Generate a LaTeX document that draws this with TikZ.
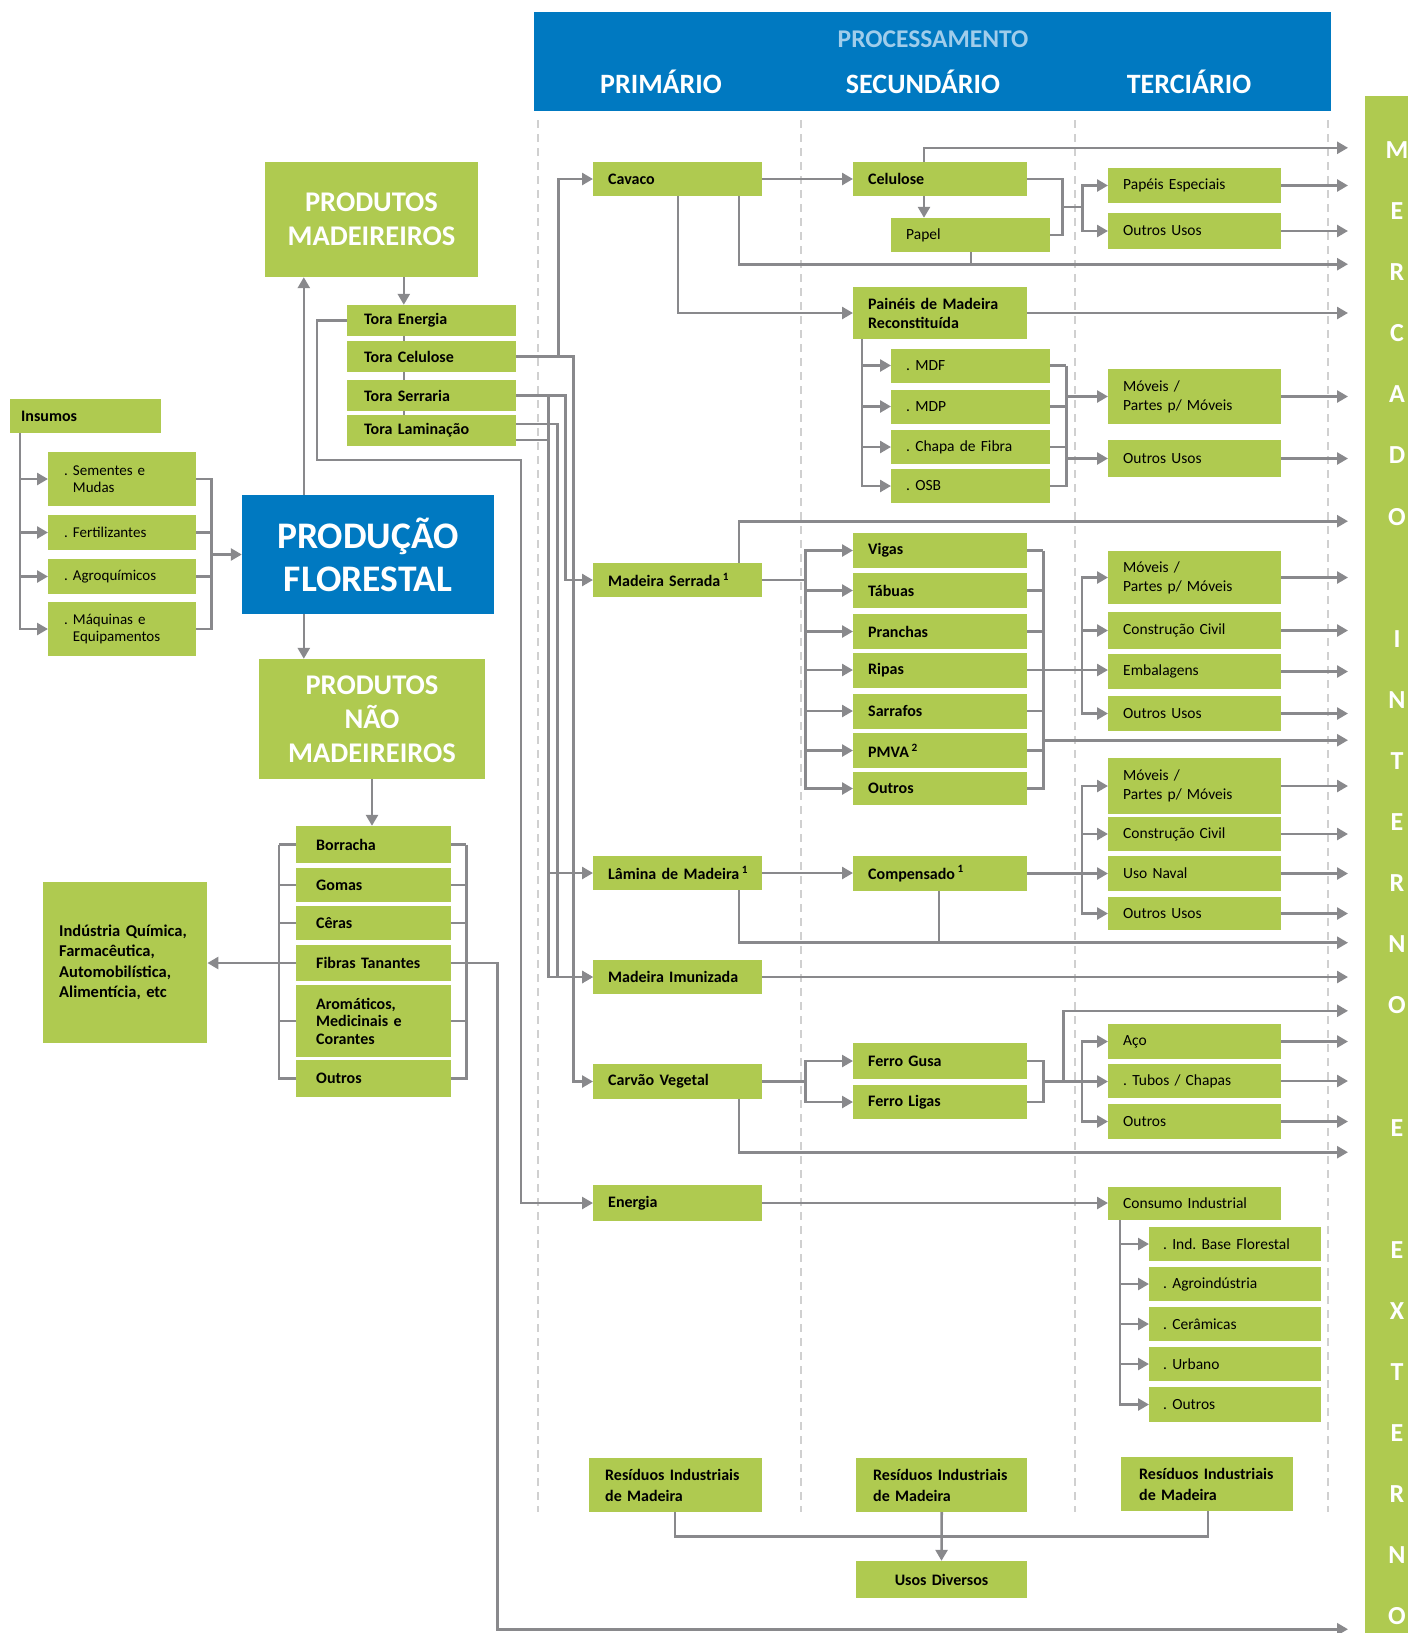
\documentclass[tikz,border=0pt]{standalone}
\usepackage{fontspec}
\setmainfont{Carlito}
\usetikzlibrary{arrows.meta,calc,backgrounds}
\definecolor{lgreen}{RGB}{175,202,80}
\definecolor{pblue}{RGB}{0,121,193}
\definecolor{lblue}{RGB}{160,205,235}
\definecolor{lgrey}{RGB}{137,137,140}
\definecolor{dgrey}{RGB}{208,208,208}
\newcommand{\bxfont}{\fontsize{16}{19}\selectfont\bfseries}
\newcommand{\ltfont}{\fontsize{15.5}{19}\selectfont}
\newcommand{\rsfont}{\fontsize{16}{21}\selectfont\bfseries}
\frenchspacing

\begin{document}
\begin{tikzpicture}[x=1pt,y=-1pt,
	line/.style={draw=lgrey,line width=2.6pt},
	arr/.style={line,-{Triangle[length=11pt,width=12pt]}},
	sep/.style={draw=dgrey,line width=1.5pt,dash pattern=on 8pt off 6pt},
	bb/.style={fill=lgreen,anchor=west,inner xsep=15pt,inner ysep=0pt,align=left,font=\bxfont},
	lb/.style={bb,font=\ltfont},
	big/.style={fill=lgreen,text=white,align=center,font=\fontsize{28.5}{34}\selectfont\bfseries},
	hd/.style={text=white,font=\fontsize{28}{32}\selectfont\bfseries},
	tora/.style={bb,inner xsep=17pt,text width=135pt,minimum height=31pt},
	inp/.style={lb,inner xsep=16pt,text width=116pt,font=\fontsize{15}{17.5}\selectfont},
	nm/.style={bb,inner xsep=20pt,text width=115pt},
	p1/.style={bb,text width=139pt,minimum height=34pt},
	p2/.style={bb,text width=144pt,minimum height=35pt},
	p2l/.style={lb,text width=129pt,minimum height=34pt},
	p3/.style={lb,text width=143pt,minimum height=35pt},
	p4/.style={lb,inner xsep=14pt,text width=144pt,minimum height=34pt},
	mlt/.style={text=white,font=\fontsize{26}{30}\selectfont\bfseries}]
\useasboundingbox (0,0) rectangle (1408,1633);

\foreach \x in {538,801,1075,1328}
	\draw[sep] (\x,120) -- (\x,1512);

\node[fill=pblue,anchor=north west,minimum width=797pt,minimum height=99pt,inner sep=0pt] (hdr) at (534,12) {};
\node[text=lblue,font=\fontsize{25.5}{30}\selectfont\bfseries] (proc) at (933,39) {PROCESSAMENTO};
\node[hd] (prim) at (661,82) {PRIMÁRIO};
\node[hd] (secd) at (923,82) {SECUNDÁRIO};
\node[hd] (terc) at (1189,82) {TERCIÁRIO};

\node[fill=lgreen,anchor=north west,minimum width=43pt,minimum height=1537pt,inner sep=0pt] (mk) at (1365,96) {};
\foreach \ch [count=\i from 0] in {M,E,R,C,A,D,O,{},I,N,T,E,R,N,O,{},E,{},E,X,T,E,R,N,O}
	\node[mlt] (ml\i) at (1397,150+61.1*\i) {\ch};
\coordinate (mkx) at (1348,0);

% entrada
\node[bb,inner xsep=11pt,text width=129pt,minimum height=34pt] (ins) at (10,416) {Insumos};
\node[inp,minimum height=54pt] (sem) at (48,479) {. Sementes e\\\phantom{. }Mudas};
\node[inp,minimum height=35pt] (fert) at (48,532.5) {. Fertilizantes};
\node[inp,minimum height=35pt] (agro) at (48,576.5) {. Agroquímicos};
\node[inp,minimum height=54pt] (maq) at (48,629) {. Máquinas e\\\phantom{. }Equipamentos};

\node[big,fill=pblue,font=\fontsize{37.5}{43}\selectfont\bfseries,minimum width=252pt,minimum height=119pt] (pf) at (368,554.5) {PRODUÇÃO\\FLORESTAL};
\node[big,minimum width=213pt,minimum height=115pt] (pm) at (371.5,219.5) {PRODUTOS\\MADEIREIROS};
\node[big,minimum width=226pt,minimum height=120pt] (pnm) at (372,719) {PRODUTOS\\NÃO\\MADEIREIROS};

\node[tora] (toraE) at (347,320.5) {Tora Energia};
\node[tora] (toraC) at (347,356.5) {Tora Celulose};
\node[tora] (toraS) at (347,395.5) {Tora Serraria};
\node[tora] (toraL) at (347,430.5) {Tora Laminação};

\node[nm,minimum height=37pt] (borr) at (296,844.5) {Borracha};
\node[nm,minimum height=34pt] (gomas) at (296,885) {Gomas};
\node[nm,minimum height=34pt] (ceras) at (296,923) {Cêras};
\node[nm,minimum height=36pt] (fibras) at (296,963) {Fibras Tanantes};
\node[nm,minimum height=72pt,font=\fontsize{16}{17.5}\selectfont\bfseries] (arom) at (296,1021) {Aromáticos,\\Medicinais e\\Corantes};
\node[nm,minimum height=37pt] (outnm) at (296,1078.5) {Outros};
\node[bb,inner xsep=16pt,text width=132pt,minimum height=161pt,font=\fontsize{16.5}{20.5}\selectfont\bfseries] (ind) at (43,962.5) {Indústria Química,\\Farmacêutica,\\Automobilística,\\Alimentícia, etc};

% primario
\node[p1] (cav) at (593,179) {Cavaco};
\node[p1] (mserr) at (593,580) {Madeira Serrada\,\textsuperscript{1}};
\node[p1] (lam) at (593,873) {\mbox{Lâmina de Madeira\,\textsuperscript{1}}};
\node[p1] (imun) at (593,977) {Madeira Imunizada};
\node[p1,minimum height=35pt] (carv) at (593,1081.5) {Carvão Vegetal};
\node[p1,minimum height=36pt] (ener) at (593,1203) {Energia};
\node[bb,inner xsep=16pt,text width=141pt,minimum height=54pt,font=\rsfont] (res1) at (589,1485) {Resíduos Industriais\\de Madeira};

% secundario
\node[p2,minimum height=34pt] (cel) at (853,179) {Celulose};
\node[p2l] (papel) at (891,235) {Papel};
\node[p2,minimum height=52pt] (pain) at (853,313) {Painéis de Madeira\\Reconstituída};
\node[p2l] (mdf) at (891,365.5) {. MDF};
\node[p2l] (mdp) at (891,406.5) {. MDP};
\node[p2l] (chapa) at (891,447) {. Chapa de Fibra};
\node[p2l] (osb) at (891,486) {. OSB};
\node[p2] (vigas) at (853,550.5) {Vigas};
\node[p2] (tabuas) at (853,590.5) {Tábuas};
\node[p2] (pranchas) at (853,631.5) {Pranchas};
\node[p2] (ripas) at (853,670) {Ripas};
\node[p2] (sarrafos) at (853,711) {Sarrafos};
\node[p2] (pmva) at (853,750.5) {PMVA\,\textsuperscript{2}};
\node[p2,minimum height=33pt] (outros) at (853,788.5) {Outros};
\node[p2] (comp) at (853,873.5) {Compensado\,\textsuperscript{1}};
\node[p2,minimum height=36pt] (fgusa) at (853,1061) {Ferro Gusa};
\node[p2,minimum height=34pt] (fligas) at (853,1102) {Ferro Ligas};
\node[bb,inner xsep=17pt,text width=137pt,minimum height=54pt,font=\rsfont] (res2) at (856,1485) {Resíduos Industriais\\de Madeira};
\node[bb,anchor=center,align=center,text width=141pt,minimum height=37pt,font=\rsfont] (usos) at (941.5,1579.5) {Usos Diversos};

% terciario
\node[p3] (pesp) at (1108,185.5) {Papéis Especiais};
\node[p3,minimum height=36pt] (ou1) at (1108,231) {Outros Usos};
\node[p3,minimum height=55pt] (mov1) at (1108,396.5) {Móveis /\\Partes p/ Móveis};
\node[p3,minimum height=37pt] (ou2) at (1108,458.5) {Outros Usos};
\node[p3,minimum height=53pt] (mov2) at (1108,577.5) {Móveis /\\Partes p/ Móveis};
\node[p3,minimum height=37pt] (cc1) at (1108,630.5) {Construção Civil};
\node[p3] (emb) at (1108,671.5) {Embalagens};
\node[p3] (ou3) at (1108,713.5) {Outros Usos};
\node[p3,minimum height=56pt] (mov3) at (1108,786) {Móveis /\\Partes p/ Móveis};
\node[p3,minimum height=34pt] (cc2) at (1108,834) {Construção Civil};
\node[p3] (naval) at (1108,873.5) {Uso Naval};
\node[p3,minimum height=33pt] (ou4) at (1108,913.5) {Outros Usos};
\node[p3] (aco) at (1108,1041.5) {Aço};
\node[p3,minimum height=34pt] (tubos) at (1108,1081) {. Tubos / Chapas};
\node[p3] (outt) at (1108,1121.5) {Outros};
\node[p3,minimum height=33pt] (cons) at (1108,1203.5) {Consumo Industrial};
\node[p4] (ibf) at (1149,1244) {. Ind. Base Florestal};
\node[p4] (agroi) at (1149,1284) {. Agroindústria};
\node[p4] (ceram) at (1149,1324) {. Cerâmicas};
\node[p4] (urb) at (1149,1364) {. Urbano};
\node[p4,minimum height=35pt] (outc) at (1149,1404.5) {. Outros};
\node[bb,inner xsep=18pt,text width=136pt,minimum height=54pt,font=\rsfont] (res3) at (1121,1484) {Resíduos Industriais\\de Madeira};

% ligacoes da esquerda
\foreach \n in {sem,fert,agro,maq}
	\draw[arr] ([xshift=10pt]ins.south west) |- (\n.west);
\draw[line] (sem.east) -- ++(15,0) |- (maq.east);
\draw[line] (fert.east) -- ++(15,0);
\draw[line] (agro.east) -- ++(15,0);
\coordinate (ib) at ($(sem.east)+(15,0)$);
\draw[arr] (ib |- pf.west) -- (pf.west);
\coordinate (pfx) at ($(pf.north west)+(62,0)$);
\draw[arr] (pfx) -- (pfx |- pm.south);
\draw[arr] (pfx |- pf.south) -- (pfx |- pnm.north);
\coordinate (px) at ($(pm.south west)+(139,0)$);
\draw[arr] (px) -- (px |- toraE.north);
\begin{pgfonlayer}{background}
	\draw[line] (px |- toraE.south) -- (px |- toraL.north);
\end{pgfonlayer}

\draw[arr] (pnm.south) -- (pnm.south |- borr.north);
\coordinate (nl) at ($(borr.west)+(-17,0)$);
\coordinate (nr) at ($(borr.east)+(15,0)$);
\foreach \n in {borr,gomas,ceras,fibras,arom,outnm} {
	\draw[line] (\n.west) -- (\n.west -| nl);
	\draw[line] (\n.east) -- (\n.east -| nr);
}
\draw[line] (nl) |- (outnm.west);
\draw[line] (nr) |- (outnm.east);
\draw[arr] (nl |- fibras.west) -- (ind.east |- fibras.west);
\draw[arr] (fibras.east) -- ++(46,0) |- ($(usos.south -| mkx)+(0,31)$);

% toras
\coordinate (eb) at (521,460);
\draw[arr] (toraE.west) -- ++(-30,0) |- (eb) |- (ener.west);
\draw[arr] (toraC.east) -- ++(42,0) |- (cav.west);
\draw[arr] (toraC.east) -- ++(57,0) |- (carv.west);
\draw[arr] (toraS.east) -- ++(49,0) |- (mserr.west);
\coordinate (tl) at ($(toraS.east)+(32,0)$);
\draw[arr] (toraS.east) -- (tl) |- (lam.west);
\draw[arr] (tl) |- (imun.west);
\draw[arr] ($(toraL.east)+(0,-6.5)$) -- ++(41,0) |- (imun.west);
\draw[line] ($(toraL.east)+(0,9.5)$) -- ++(32,0);

% cavaco
\draw[arr] (cav.east) -- (cel.west);
\coordinate (cx) at ($(cel.south west)+(71,0)$);
\draw[arr] (cx) -- (cx |- papel.north);
\draw[arr] (cx |- cel.north) |- ($(cel.north -| mkx)+(0,-14)$);
\coordinate (ca) at ($(cav.south west)+(146,0)$);
\draw[arr] (ca) |- ($(papel.south -| mkx)+(0,12)$);
\draw[line] ($(papel.south west)+(80,0)$) -- ++(0,12);
\draw[arr] ($(cav.south west)+(85,0)$) |- (pain.west);
\draw[line] (cel.east) -- ++(35,0) |- (papel.east);
\coordinate (cb1) at ($(cel.east)+(35,28)$);
\coordinate (tp) at ($(cb1)+(20,0)$);
\draw[line] (cb1) -- (tp);
\draw[arr] (tp) |- (pesp.west);
\draw[arr] (tp) |- (ou1.west);

\coordinate (pl) at ($(pain.south west)+(9,0)$);
\coordinate (pb) at ($(mdf.east)+(16,0)$);
\foreach \n in {mdf,mdp,chapa,osb} {
	\draw[arr] (pl) |- (\n.west);
	\draw[line] (\n.east) -- (\n.east -| pb);
}
\draw[line] (pb) |- (osb.east);
\draw[arr] (pb |- mov1.west) -- (mov1.west);
\draw[arr] (pb |- ou2.west) -- (ou2.west);

% madeira serrada
\draw[arr] ($(mserr.north west)+(146,0)$) |- ($(osb.south -| mkx)+(0,18)$);
\coordinate (sb) at ($(mserr.east)+(43,0)$);
\coordinate (sr) at ($(vigas.east)+(16,0)$);
\draw[line] (mserr.east) -- (sb);
\foreach \n in {vigas,tabuas,pranchas,ripas,sarrafos,pmva,outros} {
	\draw[arr] (sb) |- (\n.west);
	\draw[line] (\n.east) -- (\n.east -| sr);
}
\draw[line] (sr) |- (outros.east);
\draw[arr] (ripas.east) -- (ripas.east -| emb.west);
\coordinate (tb) at ($(emb.west)+(-26,0)$);
\foreach \n in {mov2,cc1,ou3}
	\draw[arr] (tb) |- (\n.west);
\draw[arr] ($(sr |- ou3.south)+(0,9)$) -- ($(mkx |- ou3.south)+(0,9)$);

% lamina
\draw[arr] (lam.east) -- (lam.east -| comp.west);
\draw[arr] ($(lam.south west)+(146,0)$) |- ($(ou4.south -| mkx)+(0,12.5)$);
\draw[line] ($(comp.south west)+(86,0)$) -- ++(0,51.5);
\draw[arr] (comp.east) -- (comp.east -| naval.west);
\coordinate (tc) at ($(naval.west)+(-26,0)$);
\foreach \n in {mov3,cc2,ou4}
	\draw[arr] (tc) |- (\n.west);

% carvao
\coordinate (cb) at ($(carv.east)+(43,0)$);
\draw[line] (carv.east) -- (cb);
\draw[arr] (cb) |- (fgusa.west);
\draw[arr] (cb) |- (fligas.west);
\draw[line] (fgusa.east) -- ++(16,0) |- (fligas.east);
\coordinate (fb) at ($(fgusa.east)+(16,20.5)$);
\draw[arr] (fb) -- (fb -| tubos.west);
\draw[arr] ($(fb)+(20,0)$) |- ($(aco.north -| mkx)+(0,-13)$);
\coordinate (tf) at ($(tubos.west)+(-26,0)$);
\draw[arr] (tf) |- (aco.west);
\draw[arr] (tf) |- (outt.west);
\draw[arr] ($(carv.south west)+(146,0)$) |- ($(outt.south -| mkx)+(0,13)$);

% energia
\draw[arr] (ener.east) -- (ener.east -| cons.west);
\coordinate (ci) at ($(cons.south west)+(12,0)$);
\foreach \n in {ibf,agroi,ceram,urb,outc}
	\draw[arr] (ci) |- (\n.west);

\foreach \n in {pain,pesp,ou1,mov1,ou2,mov2,cc1,emb,ou3,mov3,cc2,naval,ou4,imun,aco,tubos,outt}
	\draw[arr] (\n.east) -- (\n.east -| mkx);

% residuos
\draw[line] ($(res1.south west)+(86,0)$) -- ++(0,24) -| ($(res3.south west)+(87,0)$);
\draw[arr] (res2.south) -- (usos.north);
\end{tikzpicture}
\end{document}
